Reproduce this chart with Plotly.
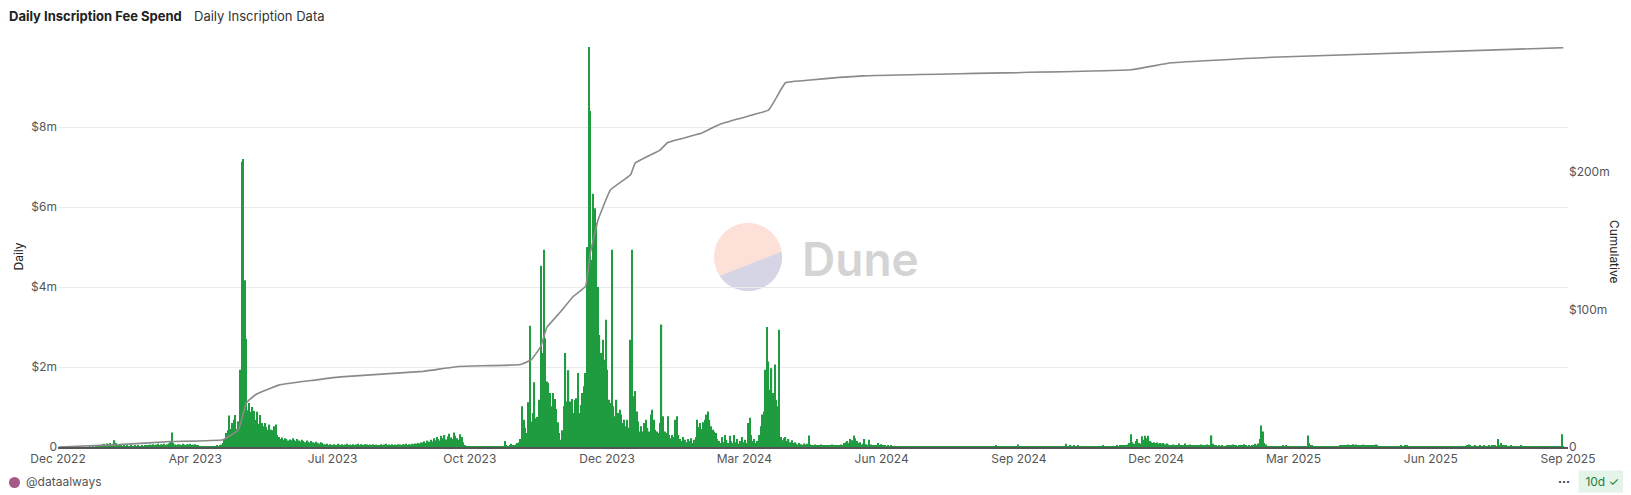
import numpy as np
import pandas as pd
import plotly.graph_objects as go

# Daily inscription fee spend in $m, one value per day from start_date
start_date = "2023-01-09"
seg_a = [0, 0, 0, 0, 0, 0, 0, 0, 0, 0, 0, 0, 0, 0, 0, 0, 0, 0, 0, 0, 0.01, 0, 0.01, 0, 0.01, 0.01, 0.02, 0.02]
seg_b = [0.06, 0.08, 0.05, 0.09, 0.07, 0.1, 0.06, 0.08, 0.17, 0.1, 0.05, 0.04, 0.03, 0.02, 0.03, 0.02, 0.03, 0.02,
         0.02, 0.03, 0.02, 0.03, 0.02, 0.03, 0.02, 0.02, 0.03, 0.02, 0.03, 0.04]
seg_c = [0.05, 0.06, 0.04, 0.07, 0.05, 0.06, 0.08, 0.05, 0.07, 0.06, 0.08, 0.05, 0.07, 0.09, 0.12, 0.36, 0.1, 0.06,
         0.05, 0.07, 0.06, 0.05, 0.08, 0.06, 0.05, 0.07, 0.06, 0.08, 0.05, 0.06, 0.07, 0.05, 0.04]
seg_d = [0.02, 0.01, 0.02, 0.02, 0.01, 0.02, 0.01, 0.02, 0.02, 0.01, 0.02, 0.03, 0.02, 0.04, 0.06]
seg_e = [0.1, 0.2, 0.35, 0.42, 0.79, 0.45, 0.6, 0.68, 0.8, 0.45, 0.64, 1.93, 7.13, 7.2, 4.17, 2.7, 0.92, 1.1, 0.88,
         1.0, 0.9, 0.68, 0.88, 0.58, 0.8, 0.6, 0.52, 0.6, 0.5, 0.43, 0.56, 0.43, 0.42, 0.52, 0.56]
seg_f = [0.3, 0.25, 0.2, 0.24, 0.18, 0.22, 0.2, 0.16, 0.19, 0.17, 0.22, 0.18, 0.15, 0.2, 0.16, 0.14, 0.18, 0.15,
         0.12, 0.16, 0.13, 0.11, 0.15, 0.12, 0.1, 0.13, 0.11, 0.09, 0.12, 0.1]
seg_g = [0.07, 0.06, 0.08, 0.05, 0.07, 0.06, 0.04, 0.07, 0.05, 0.08, 0.06, 0.05, 0.07, 0.04, 0.06, 0.08, 0.05, 0.06,
         0.04, 0.07, 0.05, 0.06, 0.08, 0.05, 0.07, 0.06, 0.05, 0.07, 0.06, 0.04, 0.06, 0.05, 0.07, 0.05, 0.06, 0.04,
         0.05, 0.07, 0.05, 0.06, 0.08, 0.05, 0.06, 0.04, 0.07, 0.05, 0.06, 0.05, 0.07, 0.06, 0.05, 0.07, 0.06, 0.08,
         0.05, 0.07, 0.06, 0.08, 0.07, 0.09, 0.08, 0.1, 0.09, 0.11, 0.12]
seg_h = [0.14, 0.1, 0.16, 0.13, 0.18, 0.14, 0.22, 0.17, 0.25, 0.2, 0.16, 0.28, 0.22, 0.3, 0.19, 0.26, 0.33, 0.24,
         0.2, 0.36, 0.28, 0.22, 0.18, 0.32, 0.25, 0.12, 0.05]
seg_i = [0.02, 0.01, 0.02, 0.01, 0.01, 0.02, 0.01, 0.01, 0.02, 0.01, 0.01, 0.01, 0.02, 0.01, 0.01, 0.02, 0.01, 0.01,
         0.01, 0.02, 0.01, 0.01, 0.02, 0.01, 0.01, 0.15, 0.03, 0.02, 0.04, 0.08, 0.05, 0.03, 0.06, 0.1, 0.12, 0.2]
seg_j = [1.02, 0.68, 0.48, 0.35, 1.12, 3.03, 0.64, 0.85, 1.62, 0.72, 0.75, 1.18, 4.53, 2.35, 4.93, 2.72, 1.64, 1.6,
         1.35, 1.02, 1.35, 1.2, 0.95, 0.62, 0.35, 0.18, 0.42, 1.02, 2.35, 1.14, 1.92, 1.14, 1.2]
seg_k = [0.85, 1.18, 1.22, 1.85, 0.85, 1.05, 1.35, 1.52, 1.85, 5.0, 10.0, 8.4, 4.68, 6.33, 5.97, 5.6, 4.0, 2.8,
         2.35, 2.68, 2.18, 3.18, 1.93, 1.18, 1.1, 4.93, 1.02, 0.77, 1.18, 0.85, 0.93, 0.81, 0.6, 0.68, 0.52, 0.68,
         0.48, 2.68, 4.93, 1.27, 1.4, 0.89, 0.64, 0.39, 0.52, 0.39, 0.6, 0.68, 0.48, 0.39, 0.81, 0.93, 0.68, 0.43,
         0.39, 0.35, 0.6, 3.06, 0.77, 0.39, 0.35, 0.77, 0.3, 0.22, 0.3, 0.25, 0.68, 0.77, 0.3]
seg_l = [0.2, 0.15, 0.25, 0.18, 0.12, 0.2, 0.15, 0.22, 0.1, 0.18, 0.25]
seg_m = [0.68, 0.5, 0.6, 0.45, 0.62, 0.68, 0.81, 0.89, 0.68, 0.52, 0.43, 0.39, 0.35]
seg_n = [0.2, 0.15, 0.1, 0.25, 0.12, 0.3, 0.18, 0.1, 0.28, 0.15, 0.1, 0.3, 0.12, 0.2, 0.08, 0.15, 0.25, 0.12,
         0.18, 0.1]
seg_o = [0.6, 0.73, 0.3, 0.15, 0.2, 0.1, 0.15, 0.3]
seg_p = [0.52, 0.81, 0.89, 1.93, 3.0, 2.14, 1.43, 1.97, 1.35, 2.06, 1.18, 1.02, 2.93]
seg_q = [0.25, 0.17, 0.22, 0.25, 0.15, 0.2, 0.12, 0.17, 0.1, 0.12, 0.08, 0.06, 0.1, 0.07, 0.05, 0.09, 0.06, 0.08,
         0.29, 0.07, 0.05, 0.04, 0.06, 0.03, 0.05, 0.04, 0.06, 0.03, 0.05, 0.04, 0.03, 0.05, 0.04, 0.06, 0.03, 0.04,
         0.05, 0.03, 0.04, 0.06, 0.05, 0.1, 0.12, 0.15, 0.1, 0.2, 0.17, 0.29, 0.22, 0.15, 0.1, 0.12, 0.06, 0.08,
         0.2, 0.07, 0.05, 0.18, 0.06, 0.04, 0.05, 0.03, 0.04, 0.1, 0.05, 0.07, 0.03, 0.04, 0.02, 0.03, 0.02, 0.03,
         0.02, 0.01, 0.02, 0.02, 0.01, 0.02, 0.01, 0.02]
seg_r = [0.01, 0.01, 0.02, 0.01, 0.01, 0.01, 0.02, 0.01, 0.01, 0.01, 0.01, 0.02, 0.01, 0.01, 0.01, 0.01, 0.01, 0.02,
         0.01, 0.01, 0.01, 0.01, 0.01, 0.02, 0.01, 0.01, 0.01, 0.01, 0.01, 0.01, 0.02, 0.01, 0.01, 0.01, 0.01, 0.02,
         0.01, 0.01, 0.01, 0.01, 0.01, 0.01, 0.01, 0.01, 0.02, 0.01, 0.01, 0.01, 0.01, 0.01, 0.01, 0.01, 0.01, 0.02,
         0.01, 0.01, 0.01, 0.01, 0.01, 0.03, 0.01, 0.01, 0.01, 0.01, 0.01, 0.01, 0.01, 0.02, 0.01, 0.01, 0.01, 0.01,
         0.01, 0.06, 0.01, 0.01, 0.01, 0.01, 0.01, 0.01, 0.01, 0.01, 0.01, 0.02, 0.01, 0.01, 0.01, 0.01, 0.01, 0.02,
         0.01, 0.01, 0.01, 0.01, 0.01, 0.01, 0.02, 0.01, 0.01, 0.01, 0.01, 0.01, 0.02, 0.01, 0.08, 0.02, 0.01, 0.03,
         0.01, 0.05, 0.01, 0.02, 0.03, 0.01, 0.01, 0.02, 0.01, 0.01, 0.02, 0.01, 0.01, 0.02, 0.01, 0.01, 0.01, 0.02,
         0.01, 0.01, 0.03, 0.01, 0.02, 0.01, 0.01, 0.02, 0.01, 0.02, 0.02, 0.03, 0.02, 0.03, 0.03, 0.04, 0.03, 0.05,
         0.06]
seg_s = [0.1, 0.32, 0.12, 0.08, 0.15, 0.2, 0.1, 0.08, 0.27, 0.18, 0.28, 0.22, 0.28, 0.15, 0.12, 0.1, 0.12, 0.1,
         0.11, 0.09, 0.1, 0.08, 0.1, 0.07, 0.09, 0.06, 0.05, 0.04, 0.06, 0.03, 0.04, 0.05, 0.09, 0.04, 0.05, 0.03,
         0.09, 0.05, 0.04, 0.06, 0.03, 0.05, 0.04, 0.03, 0.05, 0.04, 0.06, 0.03, 0.05, 0.04, 0.06, 0.05, 0.04, 0.29,
         0.08]
seg_t = [0.05, 0.04, 0.02, 0.03, 0.02, 0.03, 0.02, 0.02, 0.04, 0.03, 0.05, 0.04, 0.06, 0.03, 0.04, 0.02, 0.03, 0.05,
         0.03, 0.07, 0.04, 0.02, 0.03, 0.02, 0.04, 0.03, 0.08, 0.05, 0.09, 0.2, 0.54, 0.39, 0.1, 0.06, 0.02, 0.01,
         0.01, 0.02, 0.01, 0.01, 0.01, 0.02, 0.01, 0.01, 0.03, 0.02, 0.03, 0.02, 0.01, 0.02, 0.01, 0.01, 0.02, 0.01,
         0.01, 0.02, 0.01, 0.02, 0.01, 0.01]
seg_u = [0.29, 0.1, 0.05, 0.04, 0.02, 0.01, 0.01, 0.02, 0.01, 0.01, 0.01, 0.02, 0.01, 0.01, 0.02, 0.01, 0.01, 0.01,
         0.02, 0.01, 0.02, 0.03, 0.04, 0.03, 0.05, 0.04, 0.06, 0.03, 0.05, 0.07, 0.04, 0.06, 0.03, 0.04, 0.05, 0.03,
         0.06, 0.04, 0.05, 0.03, 0.04, 0.05, 0.03, 0.04, 0.06, 0.03, 0.02, 0.01, 0.02, 0.01, 0.01, 0.01, 0.02, 0.01,
         0.01, 0.01, 0.02, 0.01, 0.01, 0.01, 0.03, 0.01, 0.01, 0.04, 0.05, 0.02, 0.01, 0.01, 0.01, 0.02, 0.01, 0.01,
         0.01, 0.02, 0.01, 0.01, 0.01, 0.01, 0.02, 0.01, 0.01, 0.01, 0.02, 0.01, 0.01, 0.01, 0.01, 0.02, 0.01, 0.01,
         0.01, 0.02, 0.01, 0.01, 0.01, 0.02, 0.01, 0.01, 0.01, 0.02, 0.01, 0.01, 0.02, 0.03, 0.06, 0.03, 0.02, 0.02,
         0.03, 0.02, 0.02, 0.03, 0.02, 0.02, 0.03, 0.02, 0.02, 0.03, 0.02, 0.03, 0.04, 0.03, 0.02, 0.2, 0.05, 0.1,
         0.04, 0.03, 0.03, 0.02, 0.02, 0.03, 0.02, 0.02, 0.01, 0.02, 0.01, 0.02, 0.03, 0.02, 0.01, 0.02, 0.01, 0.01,
         0.02, 0.01, 0.01, 0.01, 0.02, 0.01, 0.01, 0.01, 0.01, 0.01, 0.01, 0.02, 0.01, 0.01, 0.01, 0.01, 0.01, 0.01,
         0.01, 0.02, 0.32, 0.02]

# Cumulative spend ($m) read at points along the line, keyed by day offset from start_date
cum_day = [0, 39, 72, 106, 116, 121, 127, 142, 182, 235, 258, 298, 305, 311, 315, 324, 332, 340, 343, 348, 356,
           369, 372, 388, 393, 414, 427, 448, 458, 463, 469, 485, 519, 692, 718, 783, 971]
cum_val = [0, 1.7, 4, 5.3, 12.6, 32, 38, 45, 51, 55, 58.6, 60, 63.5, 73, 87, 98.6, 109.5, 116.8, 141, 165, 187,
           198, 206.5, 216, 221.5, 228, 235, 241.7, 245, 254, 265, 267, 270, 274.4, 279.5, 283.5, 290.5]

x_ticktext = ["Dec 2022", "Apr 2023", "Jul 2023", "Oct 2023", "Dec 2023", "Mar 2024", "Jun 2024",
              "Sep 2024", "Dec 2024", "Mar 2025", "Jun 2025", "Sep 2025"]

daily = (seg_a + seg_b + seg_c + seg_d + seg_e + seg_f + seg_g + seg_h + seg_i + seg_j + seg_k + seg_l + seg_m
         + seg_n + seg_o + seg_p + seg_q + seg_r + seg_s + seg_t + seg_u)
t0 = pd.Timestamp(start_date)
dates = pd.date_range(t0, periods=len(daily), freq="D")
cum_dates = [t0 + pd.Timedelta(days=d) for d in cum_day]

# plot area in screen pixels; the page body adds an 8px offset
OFF = 8
L, R, T, B = 58, 1568, 47, 447
W, H = R - L, B - T
def px(x):
    return (x - L) / W
def py(y):
    return (B - y) / H

x0, x1 = t0 - pd.Timedelta(hours=12), t0 + pd.Timedelta(days=974)
tickvals = [x0 + (x1 - x0) * i / 11 for i in range(12)]

fig = go.Figure()
fig.add_trace(go.Bar(x=dates, y=daily, marker=dict(color="#1e9c3f", line=dict(width=0)),
                     name="Daily", hovertemplate="%{x}<br>$%{y:.2f}m<extra></extra>"))
fig.add_trace(go.Scatter(x=cum_dates, y=cum_val, yaxis="y2", mode="lines", name="Cumulative",
                         line=dict(color="#8a8a8a", width=1.6, shape="spline", smoothing=0.3)))

# Dune watermark
cx, cy, r = 748, 257, 34
ang = np.linspace(0, 2 * np.pi, 80)
circ = "M " + " L ".join(f"{px(cx + r*np.cos(a)):.5f},{py(cy + r*np.sin(a)):.5f}" for a in ang) + " Z"
a1, a2 = np.deg2rad(-9), np.deg2rad(146)
seg_ang = np.linspace(a1, a2, 50)
lower = "M " + " L ".join(f"{px(cx + r*np.cos(a)):.5f},{py(cy + r*np.sin(a)):.5f}" for a in seg_ang) + " Z"
shapes = [
    dict(type="path", path=circ, xref="paper", yref="paper", fillcolor="#fde0d8", line=dict(width=0), layer="below"),
    dict(type="path", path=lower, xref="paper", yref="paper", fillcolor="#d6d5e5", line=dict(width=0), layer="below"),
    dict(type="circle", xref="paper", yref="paper", x0=px(9), x1=px(20), y0=py(488), y1=py(477),
         fillcolor="#a35a86", line=dict(width=0)),
]

font = "Inter, Noto Sans, sans-serif"
ann = [
    dict(text="<b>Daily Inscription Fee Spend</b>", x=px(7), y=py(16), xanchor="left", yanchor="middle",
         font=dict(size=13, color="#222")),
    dict(text="Daily Inscription Data", x=px(192), y=py(16), xanchor="left", yanchor="middle",
         font=dict(size=13, color="#333")),
    dict(text="Daily", x=px(8), y=py(256), textangle=-90, xanchor="left", yanchor="middle",
         font=dict(size=12, color="#222")),
    dict(text="Cumulative", x=px(1615), y=py(251), textangle=90, xanchor="center", yanchor="middle",
         font=dict(size=12, color="#222")),
    dict(text="Dune", x=px(800), y=py(259), xanchor="left", yanchor="middle",
         font=dict(size=46, color="#d4d4d4", family="Inter, sans-serif", weight=600)),
    dict(text="@dataalways", x=px(24), y=py(482), xanchor="left", yanchor="middle",
         font=dict(size=12, color="#555")),
    dict(text="<b>···</b>", x=px(1572), y=py(482), xanchor="right", yanchor="middle",
         font=dict(size=12, color="#333")),
    dict(text=" 10d ✓ ", x=px(1578), y=py(482), xanchor="left", yanchor="middle", bgcolor="#e5f4e9",
         borderpad=3, font=dict(size=12, color="#1a7f37")),
]
for a in ann:
    a.update(xref="paper", yref="paper", showarrow=False)

fig.update_layout(
    width=1631, height=495,
    margin=dict(l=L - OFF, r=1631 - R + OFF, t=T - OFF, b=495 - B + OFF),
    paper_bgcolor="white", plot_bgcolor="white",
    font=dict(family=font, size=12, color="#555"),
    showlegend=False, bargap=0.2,
    shapes=shapes, annotations=ann,
    xaxis=dict(type="date", range=[x0, x1], tickvals=tickvals, ticktext=x_ticktext, showgrid=False,
               showline=True, linecolor="#555", linewidth=2, ticks="", tickfont=dict(size=12, color="#555")),
    yaxis=dict(range=[0, 10.0], tickvals=[0, 2, 4, 6, 8], ticktext=["0", "$2m", "$4m", "$6m", "$8m"],
               gridcolor="#ebebeb", zeroline=False, ticks="", tickfont=dict(size=12, color="#555")),
    yaxis2=dict(overlaying="y", side="right", range=[0, 291], tickvals=[0, 100, 200],
                ticktext=["0", "$100m", "$200m"], showgrid=False, zeroline=False,
                tickfont=dict(size=12, color="#555")),
)

fig.write_html("out.html")
